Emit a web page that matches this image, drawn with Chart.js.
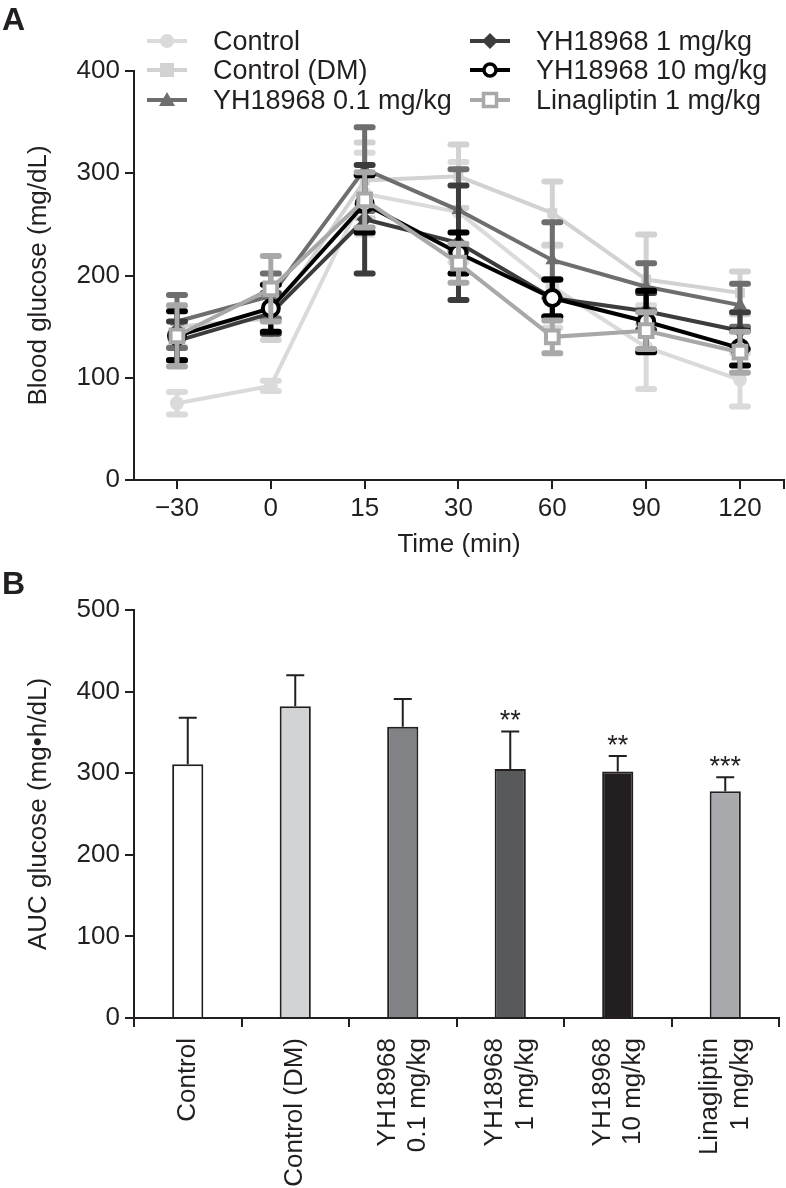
<!DOCTYPE html>
<html><head><meta charset="utf-8">
<script src="https://cdn.jsdelivr.net/npm/chart.js@4.4.1/dist/chart.umd.min.js"></script>
<style>
body{margin:0;background:#fff;width:786px;height:1188px;position:relative;overflow:hidden;font-family:"Liberation Sans",Arial,sans-serif;color:#231f20}
canvas{position:absolute;left:0}
#cA{top:0}
#cB{top:580px}
.panel{position:absolute;font-weight:bold;font-size:32px;line-height:32px}
.leg{position:absolute;font-size:27px;line-height:30px;height:30px;display:flex;align-items:center;white-space:nowrap}
.leg svg{margin-right:26px;flex:none}
</style></head><body>
<canvas id="cA" width="786" height="580"></canvas>
<canvas id="cB" width="786" height="608"></canvas>
<div class="panel" style="left:2px;top:3px">A</div>
<div class="panel" style="left:2px;top:567px">B</div>
<div id="legend"></div>
<script>
// ---------- Panel A data ----------
const timeLabels = ['\u221230', '0', '15', '30', '60', '90', '120'];
const seriesNames = ['Control', 'Control (DM)', 'YH18968 0.1 mg/kg', 'YH18968 1 mg/kg', 'YH18968 10 mg/kg', 'Linagliptin 1 mg/kg'];
const controlMean   = [75, 92, 280, 262, 189, 130, 98];
const controlErr    = [11, 5, 40, 49, 40, 41, 26];
const controlDMMean = [150, 158, 293, 297, 261, 196, 183];
const controlDMErr  = [20, 21, 37, 31, 31, 44, 21];
const yh01Mean      = [155, 180, 304, 264, 215, 189, 171];
const yh01Err       = [26, 22, 41, 40, 37, 23, 21];
const yh1Mean       = [136, 163, 255, 232, 178, 165, 146];
const yh1Err        = [19, 20, 53, 56, 18, 18, 18];
const yh10Mean      = [141, 168, 270, 222, 178, 155, 129];
const yh10Err       = [24, 23, 28, 20, 18, 30, 17];
const linaMean      = [141, 187, 274, 212, 140, 146, 125];
const linaErr       = [30, 32, 27, 19, 16, 18, 20];
const glucoseTicks  = [0, 100, 200, 300, 400];

// ---------- Panel B data ----------
const aucLabels = [['Control'], ['Control (DM)'], ['YH18968', '0.1 mg/kg'], ['YH18968', '1 mg/kg'], ['YH18968', '10 mg/kg'], ['Linagliptin', '1 mg/kg']];
const aucMean = [311, 382, 357, 305, 302, 278];
const aucErr  = [57, 38, 34, 46, 19, 17];
const aucSig  = ['', '', '', '**', '**', '***'];
const aucTicks = [0, 100, 200, 300, 400, 500];

// ---------- styles ----------
const INK = '#231f20';
const lineColors = ['#dadada', '#d2d2d2', '#6e6e6e', '#3c3c3c', '#000000', '#a8a8a8'];
const barColors = ['#ffffff', '#d1d3d4', '#808285', '#58595b', '#231f20', '#a7a9ac'];
const FONT = '"Liberation Sans", Arial, sans-serif';
const FONT_SIZE = 26;
Chart.defaults.font.family = FONT;
Chart.defaults.font.size = FONT_SIZE;
Chart.defaults.color = INK;

const means = [controlMean, controlDMMean, yh01Mean, yh1Mean, yh10Mean, linaMean];
const errs = [controlErr, controlDMErr, yh01Err, yh1Err, yh10Err, linaErr];
const pStyles = [
  {pointStyle:'circle', radius:7, bg:lineColors[0], bw:0},
  {pointStyle:'rect', radius:7, bg:lineColors[1], bw:0},
  {pointStyle:'triangle', radius:8, bg:lineColors[2], bw:0},
  {pointStyle:'rectRot', radius:8, bg:lineColors[3], bw:0},
  {pointStyle:'circle', radius:8, bg:'#ffffff', bw:4},
  {pointStyle:'rect', radius:9, bg:'#ffffff', bw:4}
];

const datasetsA = means.map((m, k) => ({
  label: seriesNames[k],
  data: m.map((v, i) => ({x: i, y: v})),
  errors: errs[k],
  borderColor: lineColors[k],
  backgroundColor: pStyles[k].bg,
  borderWidth: 4,
  pointStyle: pStyles[k].pointStyle,
  pointRadius: pStyles[k].radius,
  pointBackgroundColor: pStyles[k].bg,
  pointBorderColor: lineColors[k],
  pointBorderWidth: pStyles[k].bw,
  tension: 0,
  order: 5 - k
}));

const errorBarsA = {
  id: 'errA',
  beforeDatasetDraw(chart, args) {
    const ds = chart.data.datasets[args.index];
    const meta = args.meta;
    const ys = chart.scales.y;
    const ctx = chart.ctx;
    ctx.save();
    ctx.strokeStyle = ds.borderColor;
    ctx.lineCap = 'round';
    ds.errors.forEach((e, i) => {
      const p = meta.data[i];
      const v = ds.data[i].y;
      const yt = ys.getPixelForValue(v + e), yb = ys.getPixelForValue(v - e);
      ctx.lineWidth = 5;
      ctx.beginPath(); ctx.moveTo(p.x, yt); ctx.lineTo(p.x, yb); ctx.stroke();
      ctx.lineWidth = 6;
      ctx.beginPath();
      ctx.moveTo(p.x - 8, yt); ctx.lineTo(p.x + 8, yt);
      ctx.moveTo(p.x - 8, yb); ctx.lineTo(p.x + 8, yb);
      ctx.stroke();
    });
    ctx.restore();
  }
};

const noSidePad = s => { s.paddingLeft = 0; s.paddingRight = 0; };

const X_MIN = -0.458, X_MAX = 6.469;
new Chart(document.getElementById('cA'), {
  type: 'line',
  data: { datasets: datasetsA },
  options: {
    responsive: false, animation: false,
    layout: { autoPadding: false, padding: { left: 23, top: 71, right: 2, bottom: 20 } },
    plugins: { legend: { display: false }, tooltip: { enabled: false } },
    scales: {
      x: {
        type: 'linear', min: X_MIN, max: X_MAX,
        afterBuildTicks: s => { s.ticks = timeLabels.map((_, i) => ({ value: i })).concat([{ value: X_MAX }]); },
        ticks: { callback: v => Number.isInteger(v) ? timeLabels[v] : '', autoSkip: false, maxRotation: 0, padding: 4 },
        grid: { drawOnChartArea: false, tickLength: 9, color: INK, lineWidth: 2 },
        border: { color: INK, width: 2 },
        title: { display: true, text: 'Time (min)', padding: { top: 8, bottom: 0 } },
        afterFit: s => { s.height = 80; noSidePad(s); }
      },
      y: {
        min: 0, max: 400,
        afterBuildTicks: s => { s.ticks = glucoseTicks.map(v => ({ value: v })); },
        ticks: { padding: 5 },
        grid: { drawOnChartArea: false, tickLength: 9, color: INK, lineWidth: 2 },
        border: { color: INK, width: 2 },
        title: { display: true, text: 'Blood glucose (mg/dL)', padding: { top: 0, bottom: 4 } },
        afterFit: s => { s.width = 111; }
      }
    }
  },
  plugins: [errorBarsA]
});

// ---------- Panel B ----------
const errorBarsB = {
  id: 'errB',
  afterDatasetsDraw(chart) {
    const ctx = chart.ctx;
    const ys = chart.scales.y;
    const meta = chart.getDatasetMeta(0);
    ctx.save();
    ctx.strokeStyle = INK; ctx.fillStyle = INK;
    ctx.lineWidth = 2;
    meta.data.forEach((bar, i) => {
      const yt = ys.getPixelForValue(aucMean[i] + aucErr[i]);
      ctx.beginPath();
      ctx.moveTo(bar.x, bar.y); ctx.lineTo(bar.x, yt);
      ctx.moveTo(bar.x - 9, yt); ctx.lineTo(bar.x + 9, yt);
      ctx.stroke();
      if (aucSig[i]) {
        ctx.font = '27px ' + FONT;
        ctx.textAlign = 'center'; ctx.textBaseline = 'middle';
        ctx.fillText(aucSig[i], bar.x, yt - 10);
      }
    });
    ctx.restore();
  }
};

// rotated, centred multi-line category labels
const rotatedLabels = {
  id: 'rotLabels',
  afterDraw(chart) {
    const xs = chart.scales.x;
    const ctx = chart.ctx;
    const lh = FONT_SIZE * 1.18;
    ctx.save();
    ctx.fillStyle = INK;
    ctx.font = FONT_SIZE + 'px ' + FONT;
    ctx.textAlign = 'right';
    ctx.textBaseline = 'middle';
    aucLabels.forEach((lines, i) => {
      const x = xs.getPixelForValue(i);
      const y = chart.chartArea.bottom + 20;
      ctx.save();
      ctx.translate(x, y);
      ctx.rotate(-Math.PI / 2);
      lines.forEach((ln, j) => {
        ctx.fillText(ln, 0, (j - (lines.length - 1) / 2) * lh);
      });
      ctx.restore();
    });
    ctx.restore();
  }
};

new Chart(document.getElementById('cB'), {
  type: 'bar',
  data: {
    labels: aucLabels.map(l => l.join(' ')),
    datasets: [{
      data: aucMean,
      backgroundColor: barColors,
      borderColor: INK,
      borderWidth: 2,
      borderSkipped: 'bottom',
      barPercentage: 0.29,
      categoryPercentage: 1
    }]
  },
  options: {
    responsive: false, animation: false,
    layout: { autoPadding: false, padding: { left: 23, top: 30, right: 7, bottom: 0 } },
    plugins: { legend: { display: false }, tooltip: { enabled: false } },
    scales: {
      x: {
        offset: true,
        grid: { offset: true, drawOnChartArea: false, tickLength: 9, color: INK, lineWidth: 2 },
        border: { color: INK, width: 2 },
        ticks: { display: false },
        afterFit: s => { s.height = 170; noSidePad(s); }
      },
      y: {
        min: 0, max: 500,
        afterBuildTicks: s => { s.ticks = aucTicks.map(v => ({ value: v })); },
        ticks: { padding: 5 },
        grid: { drawOnChartArea: false, tickLength: 9, color: INK, lineWidth: 2 },
        border: { color: INK, width: 2 },
        title: { display: true, text: 'AUC glucose (mg\u2022h/dL)', padding: { top: 0, bottom: 4 } },
        afterFit: s => { s.width = 111; }
      }
    }
  },
  plugins: [errorBarsB, rotatedLabels]
});

// ---------- Legend (HTML) ----------
function markerSVG(k) {
  const c = lineColors[k];
  let mk = '';
  if (k === 0) mk = `<circle cx="20" cy="10" r="7" fill="${c}"/>`;
  if (k === 1) mk = `<rect x="13" y="3" width="14" height="14" fill="${c}"/>`;
  if (k === 2) mk = `<polygon points="20,2 28,16 12,16" fill="${c}"/>`;
  if (k === 3) mk = `<polygon points="20,2 28,10 20,18 12,10" fill="${c}"/>`;
  if (k === 4) mk = `<circle cx="20" cy="10" r="6" fill="#fff" stroke="${c}" stroke-width="3.5"/>`;
  if (k === 5) mk = `<rect x="13.5" y="3.5" width="13" height="13" fill="#fff" stroke="${c}" stroke-width="3.5"/>`;
  return `<svg width="40" height="20" viewBox="0 0 40 20"><line x1="0" y1="10" x2="40" y2="10" stroke="${c}" stroke-width="4"/>${mk}</svg>`;
}
const legRows = [41, 70, 100];
const legCols = [147, 470];
const legend = document.getElementById('legend');
seriesNames.forEach((name, k) => {
  const col = Math.floor(k / 3), row = k % 3;
  const d = document.createElement('div');
  d.className = 'leg';
  d.style.left = legCols[col] + 'px';
  d.style.top = (legRows[row] - 15) + 'px';
  d.innerHTML = markerSVG(k) + '<span>' + name + '</span>';
  legend.appendChild(d);
});
</script>
</body></html>
